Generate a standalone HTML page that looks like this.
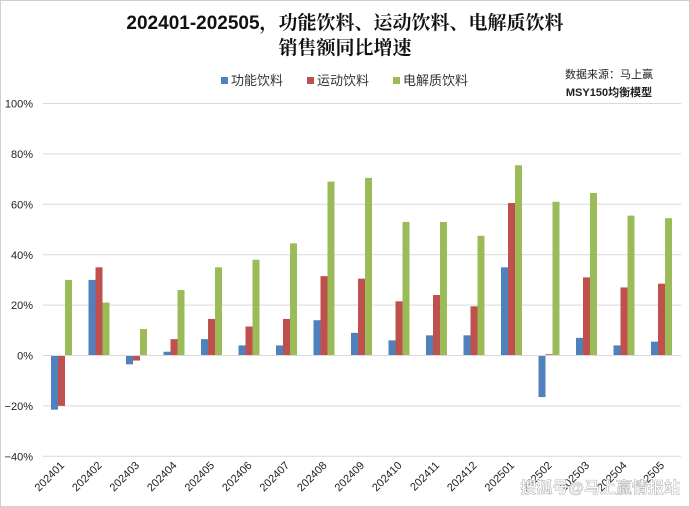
<!DOCTYPE html>
<html><head><meta charset="utf-8"><style>
body{margin:0;background:#fff}
svg{display:block;font-family:"Liberation Sans","Noto Sans CJK SC",sans-serif}
</style></head><body>
<svg width="690" height="507" xmlns="http://www.w3.org/2000/svg">
<rect x="0.5" y="0.5" width="689" height="506" fill="#fff" stroke="#d0d0d0"/>
<text x="345" y="29" text-anchor="middle" font-size="19" font-weight="bold" fill="#111" font-family="'Liberation Sans','Noto Serif CJK SC',serif">202401-202505，功能饮料、运动饮料、电解质饮料</text>
<text x="345" y="54" text-anchor="middle" font-size="19" font-weight="bold" fill="#111" font-family="'Liberation Sans','Noto Serif CJK SC',serif">销售额同比增速</text>
<g font-size="13" fill="#333">
<rect x="221" y="77" width="7" height="7" fill="#4f81bd"/><text x="231" y="85">功能饮料</text>
<rect x="307" y="77" width="7" height="7" fill="#c0504d"/><text x="317" y="85">运动饮料</text>
<rect x="393" y="77" width="7" height="7" fill="#9bbb59"/><text x="403" y="85">电解质饮料</text>
</g>
<g font-size="11" fill="#222" text-anchor="middle">
<text x="609" y="78">数据来源：马上赢</text>
<text x="609" y="96" font-weight="bold">MSY150均衡模型</text>
</g>
<g stroke="#d9d9d9" stroke-width="1">
<line x1="43" x2="681" y1="103.5" y2="103.5"/>
<line x1="43" x2="681" y1="153.9" y2="153.9"/>
<line x1="43" x2="681" y1="204.3" y2="204.3"/>
<line x1="43" x2="681" y1="254.7" y2="254.7"/>
<line x1="43" x2="681" y1="305.1" y2="305.1"/>
<line x1="43" x2="681" y1="405.9" y2="405.9"/>
<line x1="43" x2="681" y1="456.3" y2="456.3"/>
</g>
<g font-size="11" fill="#222" text-anchor="end">
<text x="33" y="107.5">100%</text><text x="33" y="158">80%</text><text x="33" y="208.5">60%</text><text x="33" y="259">40%</text><text x="33" y="309">20%</text><text x="33" y="359.5">0%</text><text x="33" y="410">−20%</text><text x="33" y="460.5">−40%</text>
</g>
<g id="bars"></g>
<line x1="43" x2="681" y1="355.5" y2="355.5" stroke="#d9d9d9"/>
<g id="labels" font-size="11" fill="#222"></g>
<text x="680" y="493" text-anchor="end" font-size="16" fill="#fff" stroke="#bbb" stroke-width="0.6" font-weight="bold">搜狐号@马上赢情报站</text>
<script>
var B=[-21.5,30,-3.5,1.5,6.5,4,4,14,9,6,8,8,35,-16.5,7,4,5.5];
var R=[-20,35,-2,6.5,14.5,11.5,14.5,31.5,30.5,21.5,24,19.5,60.5,0.5,31,27,28.5];
var G=[30,21,10.5,26,35,38,44.5,69,70.5,53,53,47.5,75.5,61,64.5,55.5,54.5];
var L=["202401","202402","202403","202404","202405","202406","202407","202408","202409","202410","202411","202412","202501","202502","202503","202504","202505"];
var ns="http://www.w3.org/2000/svg",bg=document.getElementById("bars"),lg=document.getElementById("labels");
function y(v){return 355.5-v*2.52;}
function bar(x,v,c){var r=document.createElementNS(ns,"rect");var a=y(v),b=355.5;r.setAttribute("x",x);r.setAttribute("width",7);r.setAttribute("y",Math.min(a,b));r.setAttribute("height",Math.abs(b-a));r.setAttribute("fill",c);bg.appendChild(r);}
for(var i=0;i<17;i++){var x0=51+i*37.5;bar(x0,B[i],"#4f81bd");bar(x0+7,R[i],"#c0504d");bar(x0+14,G[i],"#9bbb59");
var t=document.createElementNS(ns,"text");var cx=x0+14,cy=466;t.setAttribute("x",cx);t.setAttribute("y",cy);t.setAttribute("text-anchor","end");t.setAttribute("transform","rotate(-45 "+cx+" "+cy+")");t.textContent=L[i];lg.appendChild(t);}
</script>
</svg>
</body></html>
